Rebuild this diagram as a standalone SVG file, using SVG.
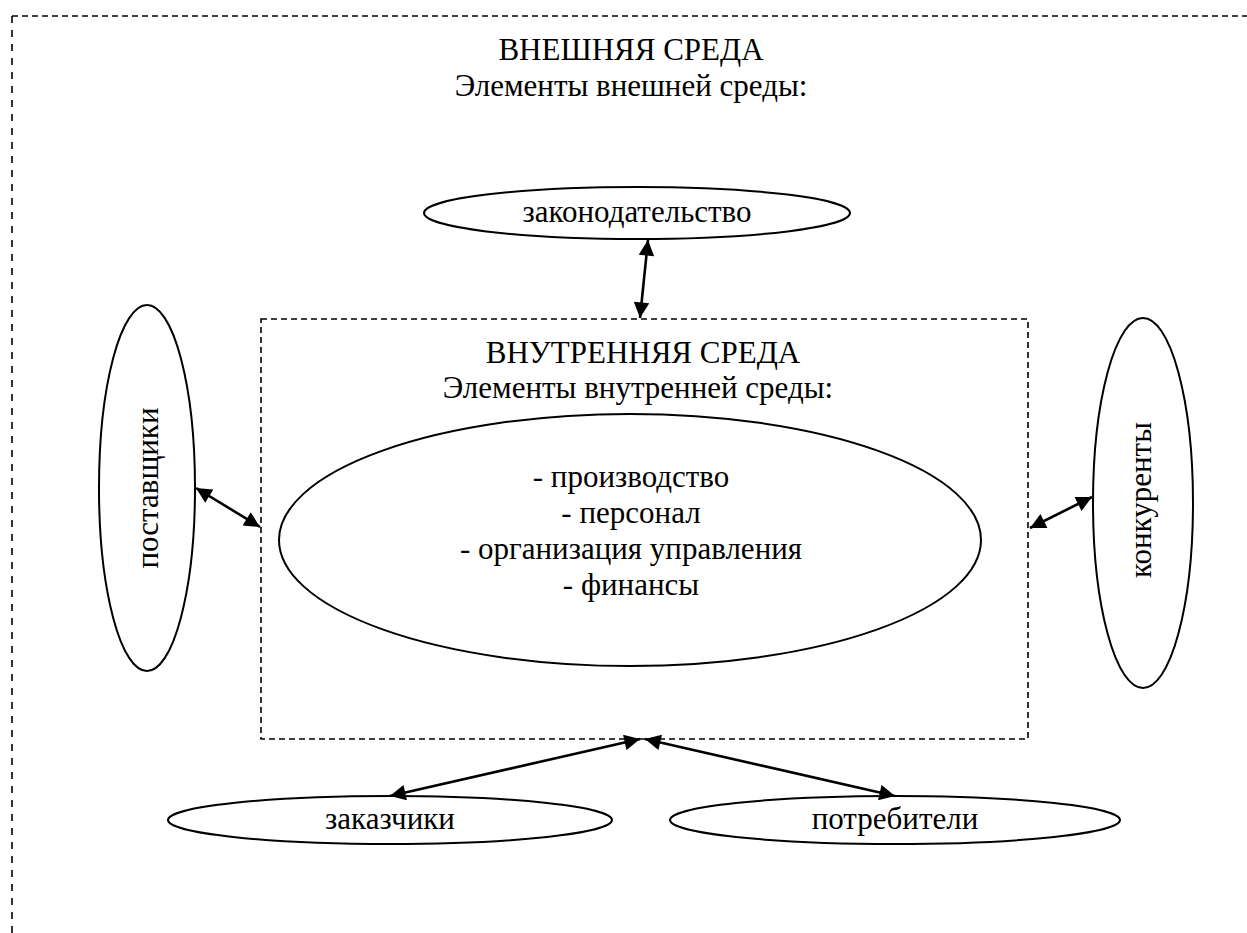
<svg xmlns="http://www.w3.org/2000/svg" width="1247" height="933" viewBox="0 0 1247 933">
<defs>
<marker id="ah" viewBox="0 0 10 10" refX="10" refY="5" markerWidth="6.5" markerHeight="6" markerUnits="strokeWidth" orient="auto-start-reverse">
<path d="M0,0 L10,5 L0,10 z" fill="#000"/>
</marker>
</defs>
<style>
text{font-family:"Liberation Serif","Times New Roman",serif;font-size:31px;fill:#000;text-anchor:middle}
.node ellipse{fill:#fff;stroke:#000;stroke-width:2}
.frame{fill:none;stroke:#000;stroke-width:1.6}
.conn line{stroke:#000;stroke-width:2.6;marker-start:url(#ah);marker-end:url(#ah)}
</style>
<rect width="1247" height="933" fill="#fff"/>
<g id="outer">
<line class="frame" x1="12" y1="16" x2="1247" y2="16" stroke-dasharray="6,4"/>
<line class="frame" x1="12" y1="16" x2="12" y2="933" stroke-dasharray="7,7"/>
<text x="631" y="60">ВНЕШНЯЯ СРЕДА</text>
<text x="631" y="96">Элементы внешней среды:</text>
</g>
<g id="inner">
<rect class="frame" x="261" y="319" width="767" height="420" stroke-dasharray="6,4"/>
<text x="643" y="363">ВНУТРЕННЯЯ СРЕДА</text>
<text x="638" y="398">Элементы внутренней среды:</text>
</g>
<g id="elements" class="node">
<ellipse cx="630" cy="540" rx="351" ry="126"/>
<text x="631" y="487">- производство</text>
<text x="631" y="523">- персонал</text>
<text x="631" y="559">- организация управления</text>
<text x="631" y="595">- финансы</text>
</g>
<g id="law" class="node">
<ellipse cx="637" cy="213" rx="213" ry="26"/>
<text x="637" y="222">законодательство</text>
</g>
<g id="suppliers" class="node">
<ellipse cx="147" cy="488" rx="48" ry="183"/>
<text x="158" y="488" transform="rotate(-90 158 488)">поставщики</text>
</g>
<g id="competitors" class="node">
<ellipse cx="1143" cy="503" rx="50" ry="185"/>
<text x="1151" y="500" transform="rotate(-90 1151 500)">конкуренты</text>
</g>
<g id="customers" class="node">
<ellipse cx="390" cy="820" rx="222" ry="24"/>
<text x="390" y="829">заказчики</text>
</g>
<g id="consumers" class="node">
<ellipse cx="895" cy="820" rx="225" ry="24"/>
<text x="895" y="829">потребители</text>
</g>
<g id="connectors" class="conn">
<line x1="648" y1="240" x2="640" y2="318"/>
<line x1="196" y1="488" x2="260" y2="527"/>
<line x1="1092" y1="497" x2="1030" y2="528"/>
<line x1="640" y1="739" x2="390" y2="796"/>
<line x1="645" y1="739" x2="895" y2="796"/>
</g>
</svg>
